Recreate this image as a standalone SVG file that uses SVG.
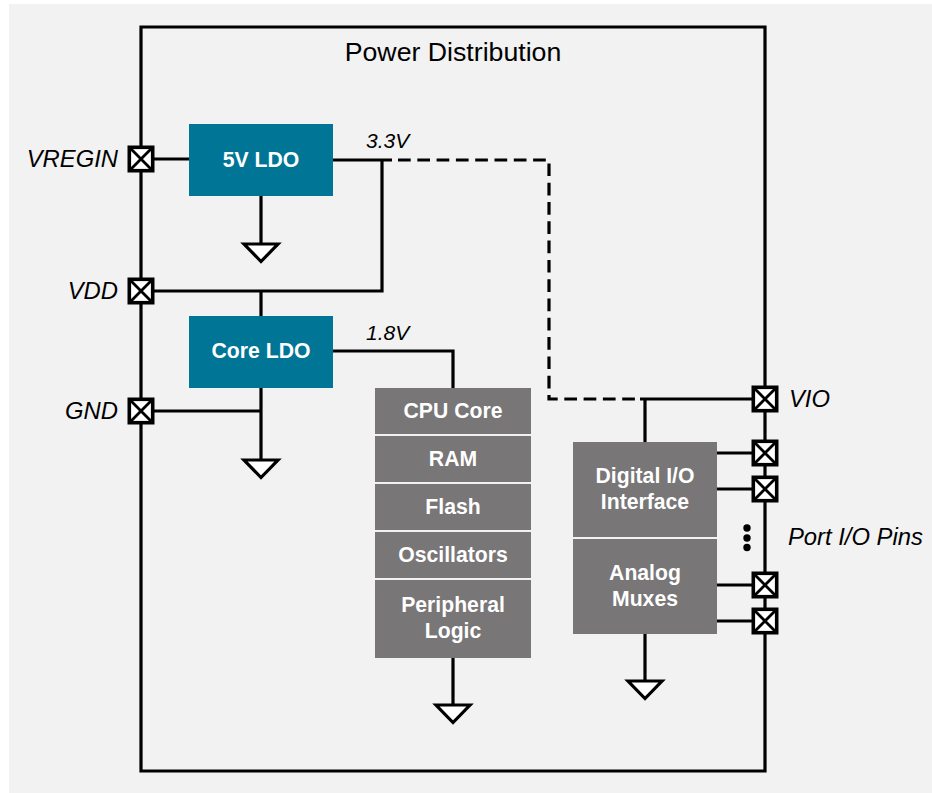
<svg xmlns="http://www.w3.org/2000/svg" width="932" height="793" viewBox="0 0 932 793">
<style>
.w{fill:none;stroke:#000;stroke-width:3.2}
.d{stroke-dasharray:12.7 6.6}
.x{fill:none;stroke:#000;stroke-width:2.8}
.t{font:italic 23.8px "Liberation Sans",Arial,sans-serif;fill:#000}
.s{font:italic 21px "Liberation Sans",Arial,sans-serif;fill:#000}
.b{font:bold 21.2px "Liberation Sans",Arial,sans-serif;fill:#fff;text-anchor:middle}
.teal{fill:#007596}
.gray{fill:#787677}
.g{fill:#fff;stroke:#000;stroke-width:3.2;stroke-linejoin:miter}
.p{fill:#fff;stroke:#000;stroke-width:3.6}
</style>
<defs>
<g id="pin"><rect x="-11.7" y="-11.7" width="23.4" height="23.4" class="p"/><path d="M-11.7-11.7L11.7 11.7M11.7-11.7L-11.7 11.7" class="x"/></g>
<path id="gnd" d="M-17 0H17L0 17.5Z" class="g"/>
</defs>
<rect width="932" height="793" fill="#fff"/>
<rect x="9" y="4" width="923" height="789" fill="#f2f2f2"/>
<g id="connectors">
<path class="w" d="M141 147V27H765V387M765 411V441M765 465V477M765 501V573M765 597V609M765 633V771H141V423M141 399V303M141 279V171"/>
<path class="w" d="M153 159H189M261 195V244M153 291H382V160H333M382 160H392M261 291V316M333 351H453V388M153 411H261M261 388V460M645 442V399"/>
<path class="w" d="M640 399H753M717 453H753M717 489H753M717 585H753M717 621H753M645 634V681M453 658V705"/>
<path class="w d" d="M398 160H549V399H640"/>
</g>
<g id="title"><text x="453" y="61" text-anchor="middle" font-family="Liberation Sans,Arial,sans-serif" font-size="26.7">Power Distribution</text></g>
<g id="ldo5"><rect x="189" y="124" width="144" height="72" class="teal"/><text x="261" y="167" class="b">5V LDO</text></g>
<g id="ldoCore"><rect x="189" y="316" width="144" height="72" class="teal"/><text x="261" y="358" class="b">Core LDO</text></g>
<g id="cpu"><rect x="375" y="388" width="156" height="46" class="gray"/><text x="453" y="418" class="b">CPU Core</text></g>
<g id="ram"><rect x="375" y="436" width="156" height="46" class="gray"/><text x="453" y="466" class="b">RAM</text></g>
<g id="flash"><rect x="375" y="484" width="156" height="46" class="gray"/><text x="453" y="514" class="b">Flash</text></g>
<g id="osc"><rect x="375" y="532" width="156" height="46" class="gray"/><text x="453" y="562" class="b">Oscillators</text></g>
<g id="periph"><rect x="375" y="580" width="156" height="78" class="gray"/><text x="453" y="612" class="b">Peripheral</text><text x="453" y="638" class="b">Logic</text></g>
<g id="dio"><rect x="573" y="442" width="144" height="95" class="gray"/><text x="645" y="483" class="b">Digital I/O</text><text x="645" y="509" class="b">Interface</text></g>
<g id="analog"><rect x="573" y="539" width="144" height="95" class="gray"/><text x="645" y="580" class="b">Analog</text><text x="645" y="606" class="b">Muxes</text></g>
<g id="grounds"><use href="#gnd" x="261" y="244"/><use href="#gnd" x="261" y="460"/><use href="#gnd" x="453" y="705"/><use href="#gnd" x="645" y="681"/></g>
<g id="pins"><use href="#pin" x="141" y="159"/><use href="#pin" x="141" y="291"/><use href="#pin" x="141" y="411"/><use href="#pin" x="765" y="399"/><use href="#pin" x="765" y="453"/><use href="#pin" x="765" y="489"/><use href="#pin" x="765" y="585"/><use href="#pin" x="765" y="621"/></g>
<g id="dots"><circle cx="747" cy="528" r="3.7"/><circle cx="747" cy="538" r="3.7"/><circle cx="747" cy="547.5" r="3.7"/></g>
<g id="labels">
<text x="118" y="167" text-anchor="end" class="t">VREGIN</text>
<text x="118" y="299" text-anchor="end" class="t">VDD</text>
<text x="118" y="419" text-anchor="end" class="t">GND</text>
<text x="789" y="407" class="t">VIO</text>
<text x="788" y="545" class="t">Port I/O Pins</text>
<text x="366" y="148" class="s">3.3V</text>
<text x="366" y="340" class="s">1.8V</text>
</g>
</svg>
